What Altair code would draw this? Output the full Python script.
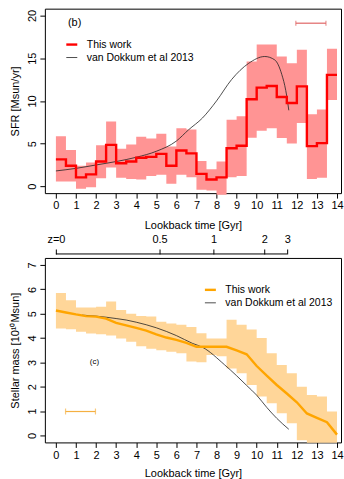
import altair as alt
import pandas as pd

# ---------------- data: panel (b) SFR ----------------
bin_start = [0, 0.5, 1, 1.5, 2, 2.5, 3, 3.5, 4, 4.5, 5, 5.5, 6, 6.5, 7, 7.5,
             8, 8.5, 9, 9.5, 10, 10.5, 11, 11.5, 12, 12.5, 13, 13.5, 14]
sfr = [3.15, 2.4, 1.05, 1.4, 2.9, 4.85, 2.7, 2.9, 3.35, 3.45, 3.8, 2.4, 4.2, 3.85,
       1.45, 0.8, 1.05, 4.45, 4.75, 10.2, 11.55, 11.75, 10.45, 9.75, 11.7, 4.7, 5.05, 13.05, 13.05]
sfr_hi = [5.85, 4.25, 2.4, 2.8, 4.8, 7.6, 4.4, 4.9, 5.8, 5.6, 6.15, 4.65, 6.8, 6.65,
          2.95, 2.0, 2.9, 7.8, 8.2, 14.6, 16.6, 16.6, 15.2, 14.4, 16.0, 8.45, 9.0, 16.1, 16.1]
sfr_lo = [0.55, 0.55, -0.3, -0.1, 0.95, 2.2, 1.0, 0.85, 0.8, 1.2, 1.35, 0.3, 1.35, 1.05,
          -0.4, -0.5, -1.0, 1.05, 1.2, 5.7, 6.5, 6.8, 5.65, 5.0, 7.4, 0.85, 1.0, 10.1, 10.1]
vd_t = [0, 1, 2, 3, 4, 5, 6, 6.6, 7.3, 8, 8.75, 9.6, 10.4, 10.9, 11.25, 11.45, 11.6]
vd_sfr = [1.8, 2.1, 2.5, 2.9, 3.4, 4.1, 5.3, 6.6, 8.0, 10.0, 12.5, 14.4, 15.2, 14.8, 13.1, 11.2, 8.9]
sfr_err_x = [11.95, 13.45]
sfr_err_y = 19.1

# ---------------- data: panel (c) stellar mass ----------------
mass_t = [0, 0.5, 1, 1.5, 2, 2.5, 3, 3.5, 4, 4.5, 5, 5.5, 6, 6.5, 7, 7.5,
          8, 8.5, 9, 9.5, 10, 10.5, 11, 11.5, 12, 12.5, 13, 13.5, 14]
mass = [5.13, 5.05, 4.97, 4.9, 4.88, 4.8, 4.62, 4.52, 4.42, 4.3, 4.15, 4.02, 3.92, 3.8,
        3.64, 3.64, 3.64, 3.64, 3.49, 3.33, 2.85, 2.45, 2.07, 1.72, 1.36, 0.9, 0.72, 0.54, 0.03]
mass_hi = [5.85, 5.55, 5.25, 5.25, 5.28, 5.5, 5.15, 5.0, 4.9, 4.88, 4.67, 4.6, 4.55, 4.45,
           4.2, 3.98, 3.98, 4.75, 4.55, 4.35, 4.0, 3.37, 2.89, 2.55, 2.0, 1.66, 1.6, 0.98, 0.98]
mass_lo = [4.39, 4.36, 4.26, 4.19, 4.15, 4.1, 3.98, 3.85, 3.66, 3.56, 3.5, 3.44, 3.37, 3.03,
           3.0, 3.3, 3.25, 2.75, 2.55, 2.07, 1.6, 1.32, 0.91, 0.5, -0.2, -0.3, -0.3, -0.3, -0.3]
vdm_t = [1.3, 2, 3, 3.5, 4, 5, 6, 6.8, 7.3, 8.4, 9, 9.5, 10, 10.5, 11, 11.6]
vdm = [4.94, 4.9, 4.8, 4.74, 4.65, 4.42, 4.1, 3.78, 3.62, 2.9, 2.45, 2.05, 1.65, 1.15, 0.7, 0.25]
mass_err_x = [0.48, 1.97]
mass_err_y = 0.98

z_lookback = [0, 5.16, 7.85, 10.38, 11.52]
z_labels = ["z=0", "0.5", "1", "2", "3"]
x_ticks = [0, 1, 2, 3, 4, 5, 6, 7, 8, 9, 10, 11, 12, 13, 14]
sfr_ticks = [0, 5, 10, 15, 20]
mass_ticks = [0, 1, 2, 3, 4, 5, 6, 7]

series = ["This work", "van Dokkum et al 2013"]
FONT = "Liberation Sans"
XDOM = [-0.55, 14.2]
W, H = 297, 185

# ---------------- frames ----------------
sfr_df = pd.DataFrame({"t": bin_start, "sfr": sfr, "hi": sfr_hi, "lo": sfr_lo, "s": series[0]})
vd_df = pd.DataFrame({"t": vd_t, "sfr": vd_sfr, "s": series[1]})
serr_df = pd.DataFrame({"x1": [sfr_err_x[0]], "x2": [sfr_err_x[1]], "y": [sfr_err_y]})
serr_caps = pd.DataFrame({"x": sfr_err_x, "y": [sfr_err_y] * 2})

m_df = pd.DataFrame({"t": mass_t, "m": mass, "s": series[0]})
mb_df = pd.DataFrame({"t": mass_t, "hi": mass_hi, "lo": mass_lo})
vdm_df = pd.DataFrame({"t": vdm_t, "m": vdm, "s": series[1]})
merr_df = pd.DataFrame({"x1": [mass_err_x[0]], "x2": [mass_err_x[1]], "y": [mass_err_y]})
merr_caps = pd.DataFrame({"x": mass_err_x, "y": [mass_err_y] * 2})
z_df = pd.DataFrame({"z0": [min(z_lookback)], "z1": [max(z_lookback)]})

xs = alt.Scale(domain=XDOM, nice=False, zero=False)


def xaxis(lp, tp):
    return alt.Axis(values=x_ticks, title="Lookback time [Gyr]",
                    tickSize=5, labelPadding=lp, titlePadding=tp, domain=False, grid=False,
                    labelFlush=False, labelOverlap=False)


def leg(x, y):
    return alt.Legend(title=None, orient="none", legendX=x, legendY=y,
                      symbolType="M-1,0H1", symbolSize=121, labelFontSize=10.5,
                      labelOffset=8, rowPadding=1, labelFont=FONT)

# ---------------- top panel ----------------
ysfr = alt.Scale(domain=[-0.8, 20.8], nice=False, zero=False)
ysfr_axis = alt.Axis(values=sfr_ticks, title="SFR [Msun/yr]", labelAngle=270,
                     labelAlign="center", labelBaseline="bottom", tickSize=5, labelPadding=2,
                     domain=False, grid=False, titlePadding=6, labelOverlap=False)
col_sfr = alt.Color("s:N", scale=alt.Scale(domain=series, range=["#ff0000", "#222222"]),
                    legend=leg(20, 29))
sw_sfr = alt.StrokeWidth("s:N", scale=alt.Scale(domain=series, range=[2.4, 0.8]),
                         legend=leg(20, 29))

band = alt.Chart(sfr_df).mark_area(interpolate="step-after", color="#ff9494").encode(
    x=alt.X("t:Q", scale=xs, axis=xaxis(1, 9)),
    y=alt.Y("lo:Q", scale=ysfr, axis=ysfr_axis),
    y2="hi:Q")
vdline = alt.Chart(vd_df).mark_line(interpolate="monotone").encode(
    x=alt.X("t:Q", axis=None), y=alt.Y("sfr:Q", axis=None), color=col_sfr, strokeWidth=sw_sfr)
redline = alt.Chart(sfr_df).mark_line(interpolate="step-after").encode(
    x=alt.X("t:Q", axis=None), y=alt.Y("sfr:Q", axis=None), color=col_sfr, strokeWidth=sw_sfr)
err1 = alt.Chart(serr_df).mark_rule(color="#e06666", strokeWidth=1.2).encode(
    x=alt.X("x1:Q", axis=None), x2="x2:Q", y=alt.Y("y:Q", axis=None))
err1c = alt.Chart(serr_caps).mark_tick(color="#e06666", orient="vertical", size=5,
                                        thickness=1.2).encode(
    x=alt.X("x:Q", axis=None), y=alt.Y("y:Q", axis=None))
lab_b = alt.Chart(pd.DataFrame({"t": [0.6], "y": [19.1], "txt": ["(b)"]})).mark_text(
    align="left", baseline="middle", fontSize=11, font=FONT).encode(
    x=alt.X("t:Q", axis=None), y=alt.Y("y:Q", axis=None), text="txt:N")

top = alt.layer(band, vdline, redline, err1, err1c, lab_b).resolve_axis(
    x="independent", y="independent").properties(width=W, height=H)

# ---------------- bottom panel ----------------
ym = alt.Scale(domain=[-0.29, 7.29], nice=False, zero=False)
ym_axis = alt.Axis(values=mass_ticks, title="Stellar mass [10¹⁰Msun]", labelAngle=270,
                   labelAlign="center", labelBaseline="bottom", tickSize=5, labelPadding=2,
                   domain=False, grid=False, titlePadding=6, labelOverlap=False)
col_m = alt.Color("s:N", scale=alt.Scale(domain=series, range=["#ffa500", "#222222"]),
                  legend=leg(159, 25))
sw_m = alt.StrokeWidth("s:N", scale=alt.Scale(domain=series, range=[2.4, 0.8]),
                       legend=leg(159, 25))

zexpr = "[" + ",".join("'%s'" % l for l in z_labels) + "][indexof([" + \
    ",".join(str(v) for v in z_lookback) + "], datum.value)]"
z_axis = alt.Axis(orient="top", values=z_lookback, labelExpr=zexpr, title=None, offset=4,
                  tickSize=5, labelPadding=4, domain=False, grid=False, labelFlush=False,
                  labelOverlap=False)

mband = alt.Chart(mb_df).mark_area(interpolate="step-after", color="#ffd699").encode(
    x=alt.X("t:Q", scale=xs, axis=xaxis(2, 7)),
    y=alt.Y("lo:Q", scale=ym, axis=ym_axis),
    y2="hi:Q")
zax = alt.Chart(z_df).mark_rule(color="black", strokeWidth=1).encode(
    x=alt.X("z0:Q", scale=xs, axis=z_axis), x2="z1:Q", y=alt.value(-4))
vdmline = alt.Chart(vdm_df).mark_line(interpolate="monotone").encode(
    x=alt.X("t:Q", axis=None), y=alt.Y("m:Q", axis=None), color=col_m, strokeWidth=sw_m)
oline = alt.Chart(m_df).mark_line().encode(
    x=alt.X("t:Q", axis=None), y=alt.Y("m:Q", axis=None), color=col_m, strokeWidth=sw_m)
err2 = alt.Chart(merr_df).mark_rule(color="#f5b041", strokeWidth=1.2).encode(
    x=alt.X("x1:Q", axis=None), x2="x2:Q", y=alt.Y("y:Q", axis=None))
err2c = alt.Chart(merr_caps).mark_tick(color="#f5b041", orient="vertical", size=6,
                                        thickness=1.2).encode(
    x=alt.X("x:Q", axis=None), y=alt.Y("y:Q", axis=None))
lab_c = alt.Chart(pd.DataFrame({"t": [1.92], "y": [3.0], "txt": ["(c)"]})).mark_text(
    align="center", baseline="middle", fontSize=8, font=FONT).encode(
    x=alt.X("t:Q", axis=None), y=alt.Y("y:Q", axis=None), text="txt:N")

bottom = alt.layer(mband, zax, vdmline, oline, err2, err2c, lab_c).resolve_axis(
    x="independent", y="independent").properties(width=W, height=H)

chart = alt.vconcat(top, bottom, spacing=2).resolve_scale(
    color="independent", strokeWidth="independent").properties(
    padding={"left": 9, "top": 7, "right": 0, "bottom": 0}
).configure(font=FONT).configure_view(stroke="black", strokeWidth=1).configure_axis(
    labelFont=FONT, titleFont=FONT, labelFontSize=11, titleFontSize=11,
    labelColor="black", titleColor="black", tickColor="black", titleFontWeight="normal",
    labelOverlap=False
).configure_legend(labelFont=FONT, labelColor="black")

chart.save("out.html", embed_options={"renderer": "svg", "actions": False})
